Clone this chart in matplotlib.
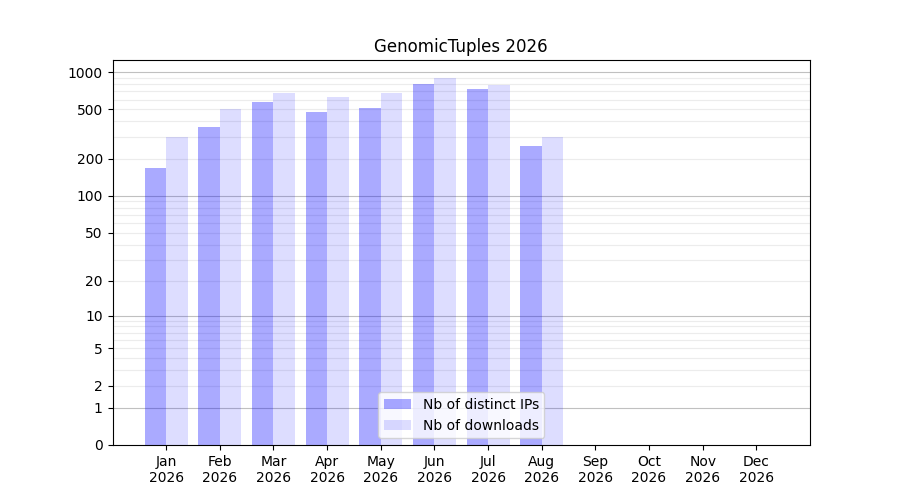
import matplotlib
matplotlib.use('Agg')
import matplotlib.pyplot as plt
import numpy as np

months = ['Jan', 'Feb', 'Mar', 'Apr', 'May', 'Jun', 'Jul', 'Aug', 'Sep', 'Oct', 'Nov', 'Dec']
year = '2026'
distinct_ips = [168, 363, 574, 477, 514, 802, 731, 254]
downloads = [297, 508, 679, 630, 679, 897, 787, 300]

tick_values = [0, 1, 2, 5, 10, 20, 50, 100, 200, 500, 1000]


def fwd(v):
    return np.log10(1 + np.asarray(v, dtype=float))


def inv(v):
    return 10 ** np.asarray(v, dtype=float) - 1


fig, ax = plt.subplots(figsize=(9, 5), dpi=100)
ax.set_yscale('function', functions=(fwd, inv))

x = np.arange(1, len(distinct_ips) + 1)
ax.bar(x, distinct_ips, -0.4, align='edge', color='blue', alpha=0.333,
       linewidth=0, label='Nb of distinct IPs', zorder=2)
ax.bar(x, downloads, 0.4, align='edge', color='blue', alpha=0.133,
       linewidth=0, label='Nb of downloads', zorder=2)

# grid lines: strong at powers of ten, light in between
for p in [1, 10, 100, 1000]:
    ax.axhline(p, color='#c0c0c0', linewidth=0.8, zorder=1)
for p in [1, 10, 100]:
    for m in range(2, 10):
        ax.axhline(p * m, color='#ececec', linewidth=0.8, zorder=1)

ax.set_ylim(0, inv(3.097))
ax.set_xlim(0, 13)
ax.set_yticks(tick_values)
ax.set_yticklabels([str(v) for v in tick_values])
ax.minorticks_off()
ax.set_xticks(np.arange(1, 13))
ax.set_xticklabels([m + '\n' + year for m in months])
ax.set_title('GenomicTuples 2026')
ax.legend(loc='lower center')

plt.savefig('out.png')
